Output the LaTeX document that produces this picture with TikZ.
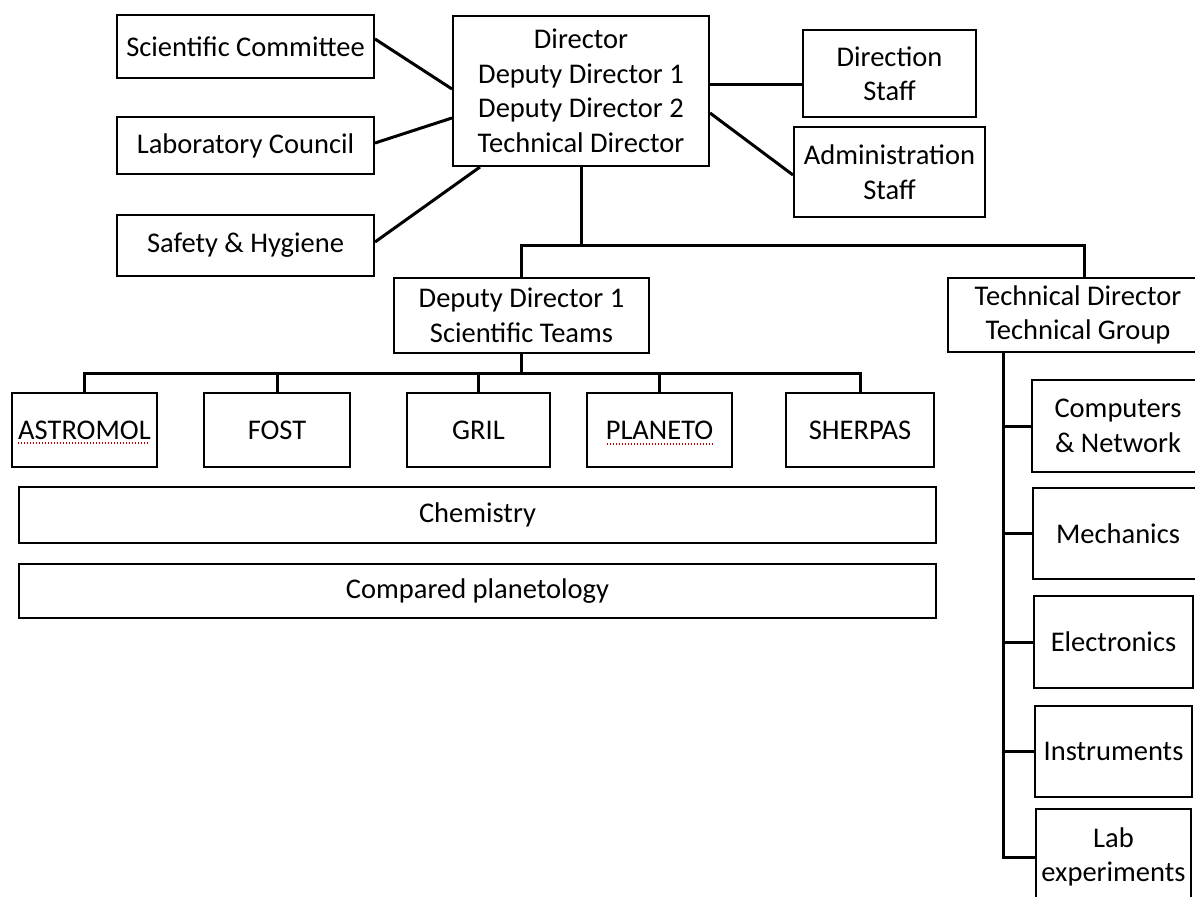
\documentclass[tikz,border=0pt]{standalone}
\usepackage{fontspec}
\setmainfont{Carlito}
\begin{document}
\begin{tikzpicture}[x=1pt,y=-1pt,
  box/.style={draw, line width=2pt, align=center, inner sep=0pt, font=\fontsize{28.5}{34.5}\selectfont},
  conn/.style={line width=3pt, line join=miter},
  spell/.style={red!75!black, line width=1.2pt, dash pattern=on 1.5pt off 1.5pt}]
\useasboundingbox (0,0) rectangle (1195,897);
\clip (0,0) rectangle (1195,897);
% top level
\node[box, minimum width=257pt, minimum height=63pt] (sc) at (245.5,46.5) {Scientific Committee};
\node[box, minimum width=257pt, minimum height=57pt] (lc) at (245.5,145.5) {Laboratory Council};
\node[box, minimum width=257pt, minimum height=61pt] (sh) at (245.5,245.5) {Safety \& Hygiene};
\node[box, minimum width=256pt, minimum height=150pt] (dir) at (581,91) {Director\\Deputy Director 1\\Deputy Director 2\\Technical Director};
\node[box, minimum width=173pt, minimum height=87pt] (ds) at (889.5,73.5) {Direction\\Staff};
\node[box, minimum width=191pt, minimum height=90pt] (as) at (889.5,172) {Administration\\Staff};
% second level
\node[box, minimum width=255pt, minimum height=75pt] (dep) at (521.5,315.5) {Deputy Director 1\\Scientific Teams};
\node[box, minimum width=260pt, minimum height=74pt] (tech) at (1078,315) {Technical Director\\Technical Group};
% teams
\node[box, minimum width=145pt, minimum height=74pt] (astro) at (84.5,430) {ASTROMOL};
\node[box, minimum width=146pt, minimum height=74pt] (fost) at (277,430) {FOST};
\node[box, minimum width=143pt, minimum height=74pt] (gril) at (478.5,430) {GRIL};
\node[box, minimum width=145pt, minimum height=74pt] (planeto) at (659.5,430) {PLANETO};
\node[box, minimum width=148pt, minimum height=74pt] (sherpas) at (860,430) {SHERPAS};
\node[box, minimum width=917pt, minimum height=56pt] (chem) at (477.5,515) {Chemistry};
\node[box, minimum width=917pt, minimum height=54pt] (cp) at (477.5,591) {Compared planetology};
% technical groups
\node[box, minimum width=172pt, minimum height=92pt] (comp) at (1118,426) {Computers\\\& Network};
\node[box, minimum width=170pt, minimum height=91pt] (mech) at (1118,533.5) {Mechanics};
\node[box, minimum width=159pt, minimum height=92pt] (elec) at (1113.5,642) {Electronics};
\node[box, minimum width=157pt, minimum height=91pt] (inst) at (1113.5,751.5) {Instruments};
\node[box, minimum width=155pt, minimum height=96pt] (lab) at (1113.5,857) {Lab\\experiments};
% spell-check marks
\draw[spell] ([shift={(-67,13)}]astro.center) -- ([shift={(65,13)}]astro.center);
\draw[spell] ([shift={(-53,14)}]planeto.center) -- ([shift={(54,14)}]planeto.center);
% connectors
\draw[conn] ([yshift=7.5pt]sc.east) -- ([yshift=2pt]dir.west);
\draw[conn] ([yshift=2.5pt]lc.east) -- ([yshift=-27pt]dir.west);
\draw[conn] ([yshift=3.5pt]sh.east) -- ([xshift=-101pt]dir.south);
\draw[conn] ([yshift=7pt]dir.east) -- ([yshift=7pt]dir.east -| ds.west);
\draw[conn] ([yshift=-22pt]dir.east) -- ([yshift=-3pt]as.west);
\coordinate (j) at (580,245);
\coordinate (tx) at ([xshift=6pt]tech.north);
\draw[conn] (dir.south) -- (dir.south |- j);
\draw[conn] (dep.north) -- (dep.north |- j) -- (tx |- j) -- (tx);
\coordinate (bus) at (0,373);
\draw[conn] (dep.south) -- (dep.south |- bus);
\draw[conn] (astro.north) -- (astro.north |- bus) -- (sherpas.north |- bus) -- (sherpas.north);
\foreach \t in {fost,gril,planeto} \draw[conn] (\t.north) -- (\t.north |- bus);
\coordinate (tb) at ([xshift=-75pt]tech.south);
\draw[conn] (tb) -- (tb |- lab.west) -- (lab.west);
\foreach \t in {comp,mech,elec,inst} \draw[conn] (\t.west -| tb) -- (\t.west);
\end{tikzpicture}
\end{document}
